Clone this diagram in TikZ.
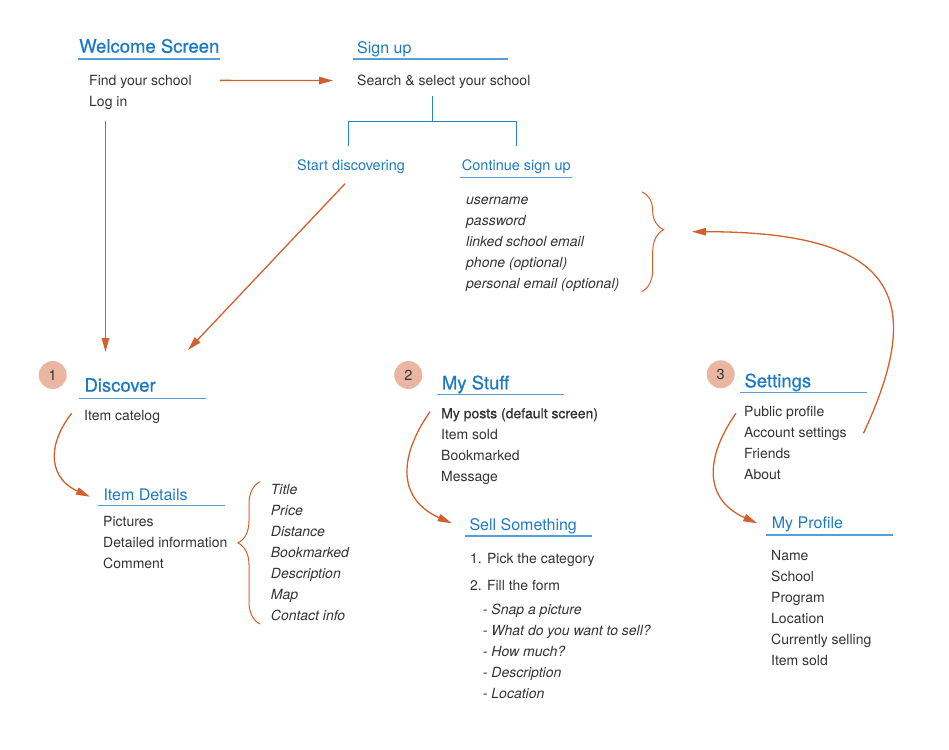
\documentclass[tikz,border=0pt]{standalone}
\usepackage{fontspec}
\setmainfont{TeX Gyre Heros}
\newfontfamily\mediumfont[FakeBold=0.7]{TeX Gyre Heros}
\usepackage{xcolor}
\usepackage{tikz}
\usetikzlibrary{arrows.meta,decorations.pathreplacing}
\definecolor{titleblue}{RGB}{28,122,196}
\definecolor{lineblue}{RGB}{85,158,215}
\definecolor{treeblue}{RGB}{40,130,200}
\definecolor{flowred}{RGB}{210,95,45}
\definecolor{numfill}{RGB}{234,182,162}
\definecolor{textgray}{RGB}{51,51,51}

\begin{document}
\begin{tikzpicture}[
      x=1pt,y=1pt,
      label/.style={anchor=base west,inner sep=0pt,align=left},
      bigtitle/.style={label,text=titleblue,font=\mediumfont\fontsize{18.5}{22}\selectfont},
      subtitle/.style={label,text=titleblue,font=\fontsize{16}{19}\selectfont},
      smalltitle/.style={label,text=titleblue,font=\fontsize{14.5}{18}\selectfont},
      body/.style={label,text=textgray,font=\fontsize{14}{21}\selectfont},
      fields/.style={label,text=textgray,font=\fontsize{14}{21}\selectfont\itshape},
      num/.style={circle,fill=numfill,minimum size=28pt,inner sep=0pt,
                  text=textgray,font=\fontsize{14.5}{17}\selectfont},
      uline/.style={draw=lineblue,line width=1.3pt},
      tree/.style={draw=treeblue,line width=1.1pt},
      curly/.style={draw=flowred,line width=1pt,decorate,
                    decoration={brace,amplitude=22pt}},
      every edge/.style={draw,flowred,line width=1.3pt,
                         -{Triangle[length=14pt,width=7.5pt]}}]
    \useasboundingbox (0,0) rectangle (949,-749);

    % welcome + sign up
    \node[bigtitle] (welcome) at (79,-52.7) {Welcome Screen};
    \node[body] (find) at (89,-85.5) {Find your school};
    \node[body] (login) at (89,-106.5) {Log in};
    \node[subtitle] (signup) at (357,-53.3) {Sign up};
    \node[body] (search) at (357,-85.7) {Search \& select your school};
    \node[smalltitle] (startdisc) at (297,-170.7) {Start discovering};
    \node[smalltitle] (contsign) at (461.7,-170.7) {Continue sign up};
    % multi-line nodes sit on their last line
    \node[fields] (accfields) at (466,-288)
      {username\\password\\linked school email\\phone (optional)\\personal email (optional)};

    \draw[uline] ([shift={(-1,-6.3)}]welcome.base west) -- ++(142,0);
    \draw[uline] ([shift={(-4,-5.7)}]signup.base west) -- ++(155,0);
    \draw[uline] ([shift={(-1.7,-7)}]contsign.base west) -- ++(112,0);

    \draw[tree] ([xshift=-11.5,yshift=-7]search.south) -- ++(0,-25.7) coordinate (fork);
    \draw[tree] ([xshift=-2.4,yshift=13.6]startdisc.north) |- (fork)
      -| ([yshift=13.6]contsign.north);

    \draw[curly,decoration={aspect=0.38}] (641.7,-191.7) -- (641.7,-291.7);
    \coordinate (signtip) at (692,-231.7);

    % the three tabs
    \node[num] (n1) at (52.7,-375) {1};
    \node[bigtitle] (discover) at (84.3,-391.7) {Discover};
    \node[body] (catalog) at (84,-420.7) {Item catelog};
    \node[subtitle] (details) at (103.3,-500.7) {Item Details};
    \node[body] (detlist) at (103,-568.7) {Pictures\\Detailed information\\Comment};
    \node[fields] (itemfields) at (270.7,-620)
      {Title\\Price\\Distance\\Bookmarked\\Description\\Map\\Contact info};
    \draw[curly,decoration={aspect=0.57}] (260,-624) -- (260,-481.7);

    \node[num] (n2) at (408.3,-375) {2};
    \node[bigtitle] (mystuff) at (441.7,-389.3) {My Stuff};
    \node[body,font=\mediumfont\fontsize{14}{21}\selectfont] (myposts) at (441,-418.3)
      {My posts (default screen)};
    \node[body] (stufflist) at (441,-481.3) {Item sold\\Bookmarked\\Message};
    \node[subtitle] (sell) at (469.3,-530) {Sell Something};
    \node[body] (pick) at (470,-563.3) {1. Pick the category};
    \node[body] (fill) at (470,-590.7) {2. Fill the form};
    \node[fields] (formfields) at (482.7,-698)
      {- Snap a picture\\- What do you want to sell?\\- How much?\\- Description\\- Location};

    \node[num] (n3) at (720.7,-374.3) {3};
    \node[bigtitle] (settings) at (744.3,-387.3) {Settings};
    \node[body] (pubprof) at (744,-416.7) {Public profile};
    \node[body] (accset) at (744,-437.7) {Account settings};
    \node[body] (setlist) at (744,-479.7) {Friends\\About};
    \node[subtitle] (myprofile) at (771.7,-528.3) {My Profile};
    \node[body] (proflist) at (771,-665)
      {Name\\School\\Program\\Location\\Currently selling\\Item sold};

    \draw[uline] ([shift={(-5,-6.6)}]discover.base west) -- ++(127,0);
    \draw[uline] ([shift={(-5,-5)}]details.base west) -- ++(127,0);
    \draw[uline] ([shift={(-5,-5)}]mystuff.base west) -- ++(127,0);
    \draw[uline] ([shift={(-4.3,-6)}]sell.base west) -- ++(127,0);
    \draw[uline] ([shift={(-4.3,-5.4)}]settings.base west) -- ++(127,0);
    \draw[uline] ([shift={(-5.7,-6.7)}]myprofile.base west) -- ++(127,0);

    \draw ([xshift=28,yshift=2.5]find.mid east) edge ([xshift=-24,yshift=2.5]search.mid west);
    \draw ([shift={(16.5,-14)}]login.base west) edge ([shift={(21.2,39.7)}]discover.base west);
    \draw ([xshift=-6,yshift=-9.6]startdisc.south) edge ([shift={(103.7,41.7)}]discover.base west);
    \draw ([shift={(-12.3,7.4)}]catalog.base west)
      edge[out=232,in=156,looseness=1.3] ([shift={(-13.3,4)}]details.base west);
    \draw ([shift={(-11,6.6)}]myposts.base west)
      edge[out=235,in=156,looseness=1.3] ([shift={(-17.6,6.7)}]sell.base west);
    \draw ([shift={(-8,3.4)}]pubprof.base west)
      edge[out=235,in=156,looseness=1.3] ([shift={(-14.4,5)}]myprofile.base west);
    \draw ([shift={(16.6,4.4)}]accset.base east)
      edge[out=65,in=0,out distance=147,in distance=208] (signtip);
  \end{tikzpicture}
\end{document}
